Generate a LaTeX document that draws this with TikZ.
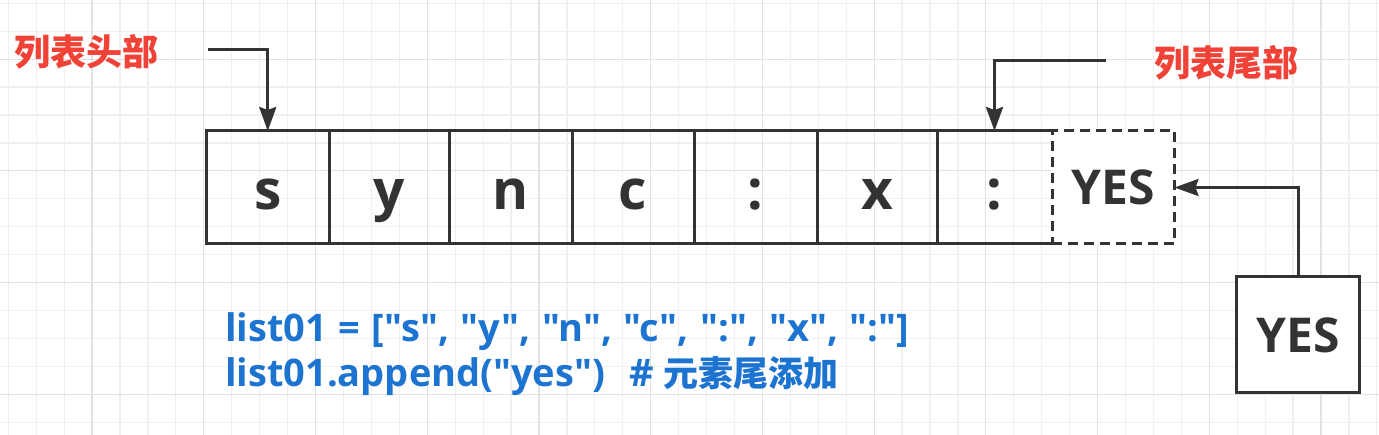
\documentclass[tikz,border=0pt]{standalone}
\usepackage{fontspec}
\setmainfont{Open Sans}
\newfontfamily\latin{Open Sans}
\newfontfamily\cjk{Noto Sans CJK SC}
\usetikzlibrary{arrows.meta}
\definecolor{ink}{RGB}{51,51,51}
\definecolor{redlab}{RGB}{240,66,54}
\definecolor{codeblue}{RGB}{28,116,208}
\definecolor{gridminor}{RGB}{240,240,240}
\definecolor{gridmajor}{RGB}{226,226,226}
\newcommand\widesp{\spaceskip=11.5pt\relax}
\tikzset{
  cellbox/.style={draw=ink, line width=3pt, inner sep=0pt, outer sep=0pt, minimum height=113pt,
    text=ink, font=\latin\bfseries\fontsize{55}{60}\selectfont, text height=45pt, text depth=0pt},
  yesbox/.style={draw=ink, line width=3pt, inner sep=0pt, outer sep=0pt, fill=white,
    text=ink, font=\latin\bfseries\fontsize{48}{52}\selectfont, text height=35pt, text depth=0pt},
  dashbox/.style={yesbox, dash pattern=on 10pt off 6pt},
  redtext/.style={text=redlab, font=\cjk\bfseries\fontsize{36}{40}\selectfont, inner sep=0pt},
  codetext/.style={text=codeblue, font=\latin\bfseries\fontsize{38}{44}\selectfont, inner sep=0pt, anchor=base west},
  arr/.style={draw=ink, line width=3pt, -{Stealth[length=24pt,width=17pt,inset=3pt]}},
  minorgrid/.style={draw=gridminor, line width=1.2pt},
  majorgrid/.style={draw=gridmajor, line width=1.2pt}
}
\begin{document}
\begin{tikzpicture}[x=1pt,y=-1pt]
\useasboundingbox (0,0) rectangle (1379,435);
\fill[white] (0,0) rectangle (1379,435);
% grid
\foreach \k in {0,...,49} \draw[minorgrid] ({8.3+27.93*\k},0) -- ({8.3+27.93*\k},435);
\foreach \k in {0,...,15} \draw[minorgrid] (0,{3.3+27.93*\k}) -- (1379,{3.3+27.93*\k});
\foreach \k in {3,7,...,47} \draw[majorgrid] ({8.3+27.93*\k},0) -- ({8.3+27.93*\k},435);
\foreach \k in {2,6,10,14} \draw[majorgrid] (0,{3.3+27.93*\k}) -- (1379,{3.3+27.93*\k});
% cells
\node[cellbox, minimum width=122.5pt] (c1) at (267.75,187.5) {s};
\node[cellbox, minimum width=120.3pt] (c2) at (389.15,187.5) {y};
\node[cellbox, minimum width=122.7pt] (c3) at (510.65,187.5) {n};
\node[cellbox, minimum width=122pt]   (c4) at (633,187.5) {c};
\node[cellbox, minimum width=123.3pt] (c5) at (755.65,187.5) {:};
\node[cellbox, minimum width=119.7pt] (c6) at (877.15,187.5) {x};
\node[cellbox, draw=none, minimum width=115pt] (c7) at (994.5,187.5) {:};
\draw[ink, line width=3pt] (c7.north east) -- (c7.north west) -- (c7.south west) -- (c7.south east);
\node[dashbox, minimum width=122.5pt, minimum height=113pt] (dash) at (1113.25,187.5) {YES};
% new element box
\node[yesbox, minimum width=122.5pt, minimum height=116pt] (yes) at (1298,335) {YES};
% labels
\node[redtext] (headlab) at (86,52) {列表头部};
\node[redtext] (taillab) at (1226,63) {列表尾部};
% arrows
\coordinate (hstart) at (208,50);
\coordinate (tstart) at (1106,60.7);
\draw[arr] (hstart) -| (c1.north);
\draw[arr] (tstart) -| (c7.north);
\draw[arr] (yes.north) |- (dash.east);
% code
\node[codetext] (code1) at (225,341.7) {\widesp list01 = ["s", "y", "n", "c", ":", "x", ":"]};
\node[codetext] (code2) at (225,386.7) {list01.append("yes")\hspace{24pt}\#\hspace{10pt}{\cjk\bfseries\fontsize{35}{40}\selectfont 元素尾添加}};
\end{tikzpicture}
\end{document}
